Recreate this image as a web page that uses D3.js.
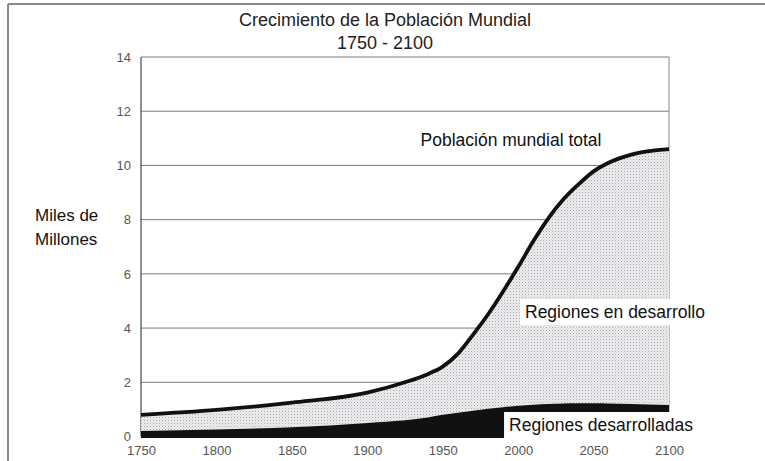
<!DOCTYPE html>
<html>
<head>
<meta charset="utf-8">
<script src="https://cdn.jsdelivr.net/npm/d3@7"></script>
<style>
  body { margin: 0; background: #fff; }
  text { font-family: "Liberation Sans", Arial, sans-serif; }
</style>
</head>
<body>
<svg width="765" height="461"></svg>
<script>
var years     = [1750, 1800, 1850, 1900, 1925, 1940, 1950, 1960, 1970, 1980, 1990, 2000, 2010, 2020, 2030, 2040, 2050, 2060, 2075, 2100];
var total     = [0.80, 0.98, 1.25, 1.62, 2.00, 2.30, 2.58, 3.05, 3.75, 4.50, 5.35, 6.25, 7.20, 8.05, 8.75, 9.30, 9.78, 10.10, 10.40, 10.60];
var developed = [0.20, 0.26, 0.34, 0.50, 0.60, 0.70, 0.80, 0.88, 0.95, 1.02, 1.08, 1.13, 1.17, 1.20, 1.22, 1.23, 1.23, 1.22, 1.20, 1.16];
var xTicks = [1750, 1800, 1850, 1900, 1950, 2000, 2050, 2100];
var yTicks = [0, 2, 4, 6, 8, 10, 12, 14];

var plotLeft = 141, plotRight = 669, plotTop = 57, plotBottom = 436.5;

var svg = d3.select("svg");

var x = d3.scaleLinear().domain([1750, 2100]).range([plotLeft, plotRight]);
var y = d3.scaleLinear().domain([0, 14]).range([plotBottom, plotTop]);

var data = years.map((yr, i) => ({ year: yr, total: total[i], dev: developed[i] }));

// stipple pattern for developing regions
var defs = svg.append("defs");
var pat = defs.append("pattern")
    .attr("id", "dots")
    .attr("width", 3).attr("height", 3)
    .attr("patternUnits", "userSpaceOnUse");
pat.append("rect").attr("width", 3).attr("height", 3).attr("fill", "#eeeef0");
pat.append("rect").attr("width", 1).attr("height", 1).attr("fill", "#a8a8ac");
pat.append("rect").attr("x", 1.5).attr("y", 1.5).attr("width", 1).attr("height", 1).attr("fill", "#c6c6ca");

// outer frame
svg.append("line").attr("x1", 8).attr("x2", 765).attr("y1", 4).attr("y2", 4)
    .attr("stroke", "#8a8a8a").attr("stroke-width", 2);
svg.append("line").attr("x1", 8).attr("x2", 8).attr("y1", 4).attr("y2", 461)
    .attr("stroke", "#8a8a8a").attr("stroke-width", 2);

// title
svg.append("text").attr("x", 385).attr("y", 26).attr("text-anchor", "middle")
    .attr("font-size", 18).attr("fill", "#222").text("Crecimiento de la Población Mundial");
svg.append("text").attr("x", 385).attr("y", 49).attr("text-anchor", "middle")
    .attr("font-size", 18).attr("fill", "#222").text("1750 - 2100");

// grid lines
svg.append("g").selectAll("line")
    .data(yTicks.filter(d => d > 0))
    .enter().append("line")
    .attr("x1", plotLeft).attr("x2", plotRight)
    .attr("y1", d => y(d)).attr("y2", d => y(d))
    .attr("stroke", "#7a7a7a").attr("stroke-width", 1);

// plot border
svg.append("line").attr("x1", plotLeft).attr("x2", plotLeft).attr("y1", plotTop).attr("y2", plotBottom)
    .attr("stroke", "#555").attr("stroke-width", 1.3);
svg.append("line").attr("x1", plotRight).attr("x2", plotRight).attr("y1", plotTop).attr("y2", plotBottom)
    .attr("stroke", "#888").attr("stroke-width", 1);

var curve = d3.curveMonotoneX;

var areaDev = d3.area()
    .x(d => x(d.year)).y0(y(0)).y1(d => y(d.dev)).curve(curve);
var areaTot = d3.area()
    .x(d => x(d.year)).y0(d => y(d.dev)).y1(d => y(d.total)).curve(curve);
var lineTot = d3.line()
    .x(d => x(d.year)).y(d => y(d.total)).curve(curve);

svg.append("path").datum(data).attr("d", areaTot).attr("fill", "url(#dots)");
svg.append("path").datum(data).attr("d", areaDev).attr("fill", "#111");
svg.append("path").datum(data).attr("d", lineTot)
    .attr("fill", "none").attr("stroke", "#111").attr("stroke-width", 3.8);

// bottom band
svg.append("line").attr("x1", plotLeft).attr("x2", plotRight).attr("y1", plotBottom).attr("y2", plotBottom)
    .attr("stroke", "#111").attr("stroke-width", 3);

// axes labels
var yAxis = d3.axisLeft(y).tickValues(yTicks).tickSize(0).tickPadding(10);
var gy = svg.append("g").attr("transform", "translate(" + plotLeft + ",0)").call(yAxis);
gy.select(".domain").remove();
gy.selectAll("text").attr("font-size", 13).attr("fill", "#555")
    .style("font-family", "'Liberation Sans', Arial, sans-serif");

var xAxis = d3.axisBottom(x).tickValues(xTicks).tickFormat(d3.format("d")).tickSize(0).tickPadding(9);
var gx = svg.append("g").attr("transform", "translate(0," + plotBottom + ")").call(xAxis);
gx.select(".domain").remove();
gx.selectAll("text").attr("font-size", 13).attr("fill", "#555")
    .style("font-family", "'Liberation Sans', Arial, sans-serif");

// y title
svg.append("text").attr("x", 35).attr("y", 221).attr("font-size", 17).attr("fill", "#111").text("Miles de");
svg.append("text").attr("x", 35).attr("y", 245).attr("font-size", 17).attr("fill", "#111").text("Millones");

// series labels
function label(txt, cx, cy, box) {
    var g = svg.append("g");
    var t = g.append("text").attr("x", cx).attr("y", cy).attr("text-anchor", "middle")
        .attr("dominant-baseline", "central")
        .attr("font-size", 17.5).attr("fill", "#111").text(txt);
    if (box) {
        var b = t.node().getBBox();
        g.insert("rect", "text")
            .attr("x", b.x - 5).attr("y", b.y - 3)
            .attr("width", b.width + 10).attr("height", b.height + 6)
            .attr("fill", "#fff");
    }
}
label("Población mundial total", 511, 140, false);
label("Regiones en desarrollo", 615, 312, true);
label("Regiones desarrolladas", 601, 425, true);
</script>
</body>
</html>
